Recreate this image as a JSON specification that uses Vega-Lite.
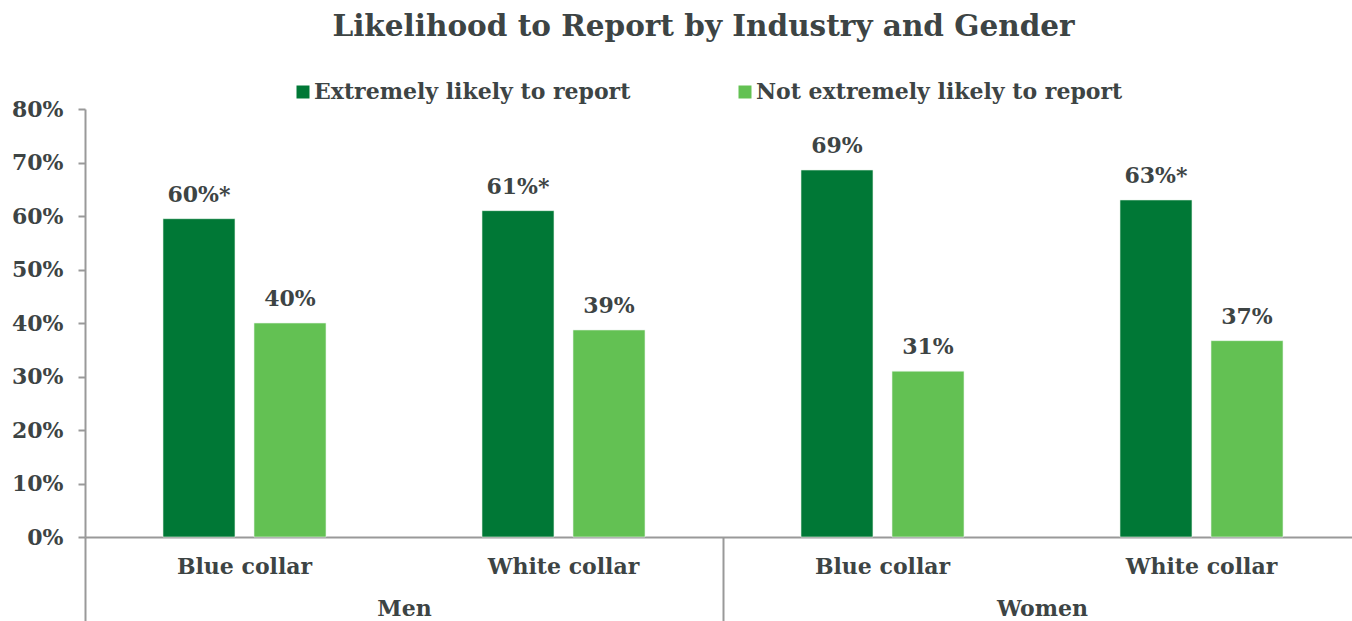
{
  "$schema": "https://vega.github.io/schema/vega-lite/v6.json",
  "autosize": {"type": "none"},
  "width": 1267,
  "height": 428,
  "padding": {"left": 85, "top": 109, "right": 0, "bottom": 84},
  "background": "white",
  "config": {"view": {"stroke": null}},
  "title": {
    "text": "Likelihood to Report by Industry and Gender",
    "font": "DejaVu Serif",
    "fontSize": 29.5,
    "fontWeight": "bold",
    "color": "#3d4444",
    "anchor": "middle",
    "dx": -15,
    "offset": 39
  },
  "data": {
    "values": [
      {"group": "Men|Blue collar", "gender": "Men", "series": "Extremely likely to report", "value": 0.595, "label": "60%*"},
      {"group": "Men|Blue collar", "gender": "Men", "series": "Not extremely likely to report", "value": 0.40, "label": "40%"},
      {"group": "Men|White collar", "gender": "Men", "series": "Extremely likely to report", "value": 0.61, "label": "61%*"},
      {"group": "Men|White collar", "gender": "Men", "series": "Not extremely likely to report", "value": 0.387, "label": "39%"},
      {"group": "Women|Blue collar", "gender": "Women", "series": "Extremely likely to report", "value": 0.686, "label": "69%"},
      {"group": "Women|Blue collar", "gender": "Women", "series": "Not extremely likely to report", "value": 0.31, "label": "31%"},
      {"group": "Women|White collar", "gender": "Women", "series": "Extremely likely to report", "value": 0.63, "label": "63%*"},
      {"group": "Women|White collar", "gender": "Women", "series": "Not extremely likely to report", "value": 0.367, "label": "37%"}
    ]
  },
  "layer": [
    {
      "layer": [
        {
          "mark": {"type": "bar", "stroke": "#e8f5ea", "strokeWidth": 0.6},
          "encoding": {
            "x": {
              "field": "group",
              "type": "nominal",
              "sort": null,
              "scale": {"range": [0, 1276], "paddingInner": 0, "paddingOuter": 0},
              "axis": {
                "orient": "bottom",
                "title": null,
                "labelExpr": "split(datum.value, '|')[1]",
                "labelAngle": 0,
                "labelFont": "DejaVu Serif",
                "labelFontSize": 22,
                "labelFontWeight": "bold",
                "labelColor": "#3d4444",
                "labelPadding": 19,
                "ticks": false,
                "domainColor": "#999999",
                "domainWidth": 2
              }
            },
            "xOffset": {
              "field": "series",
              "type": "nominal",
              "sort": null,
              "scale": {"paddingInner": 0.2088, "paddingOuter": 0.857}
            },
            "y": {
              "field": "value",
              "type": "quantitative",
              "scale": {"domain": [0, 0.8]},
              "axis": {
                "title": null,
                "values": [0, 0.1, 0.2, 0.3, 0.4, 0.5, 0.6, 0.7, 0.8],
                "format": ".0%",
                "grid": false,
                "labelFont": "DejaVu Serif",
                "labelFontSize": 22,
                "labelFontWeight": "bold",
                "labelColor": "#3d4444",
                "labelPadding": 15,
                "tickSize": 7,
                "tickColor": "#999999",
                "tickWidth": 2,
                "domainColor": "#999999",
                "domainWidth": 2
              }
            },
            "color": {
              "field": "series",
              "type": "nominal",
              "sort": null,
              "scale": {
                "domain": ["Extremely likely to report", "Not extremely likely to report"],
                "range": ["#007836", "#63c153"]
              },
              "legend": {
                "title": null,
                "orient": "none",
                "direction": "horizontal",
                "legendX": 207,
                "legendY": -28,
                "symbolType": "square",
                "symbolSize": 169,
                "symbolStrokeWidth": 0,
                "labelFont": "DejaVu Serif",
                "labelFontSize": 22,
                "labelFontWeight": "bold",
                "labelColor": "#3d4444",
                "labelOffset": 0,
                "labelLimit": 500,
                "columnPadding": 103
              }
            }
          }
        },
        {
          "mark": {
            "type": "text",
            "font": "DejaVu Serif",
            "fontSize": 22,
            "fontWeight": "bold",
            "color": "#3d4444",
            "baseline": "alphabetic",
            "dy": -17
          },
          "encoding": {
            "x": {"field": "group", "type": "nominal", "sort": null},
            "xOffset": {"field": "series", "type": "nominal", "sort": null},
            "y": {"field": "value", "type": "quantitative"},
            "text": {"field": "label"}
          }
        }
      ]
    },
    {
      "mark": {"type": "point", "opacity": 0},
      "encoding": {
        "x": {
          "field": "gender",
          "type": "nominal",
          "sort": null,
          "scale": {"range": [0, 1276], "paddingInner": 0, "paddingOuter": 0},
          "axis": {
            "orient": "bottom",
            "title": null,
            "labelAngle": 0,
            "labelFont": "DejaVu Serif",
            "labelFontSize": 22,
            "labelFontWeight": "bold",
            "labelColor": "#3d4444",
            "tickBand": "extent",
            "tickSize": 84,
            "tickColor": "#999999",
            "tickWidth": 2,
            "labelPadding": -23,
            "domain": false
          }
        }
      }
    }
  ],
  "resolve": {"scale": {"x": "independent"}}
}
